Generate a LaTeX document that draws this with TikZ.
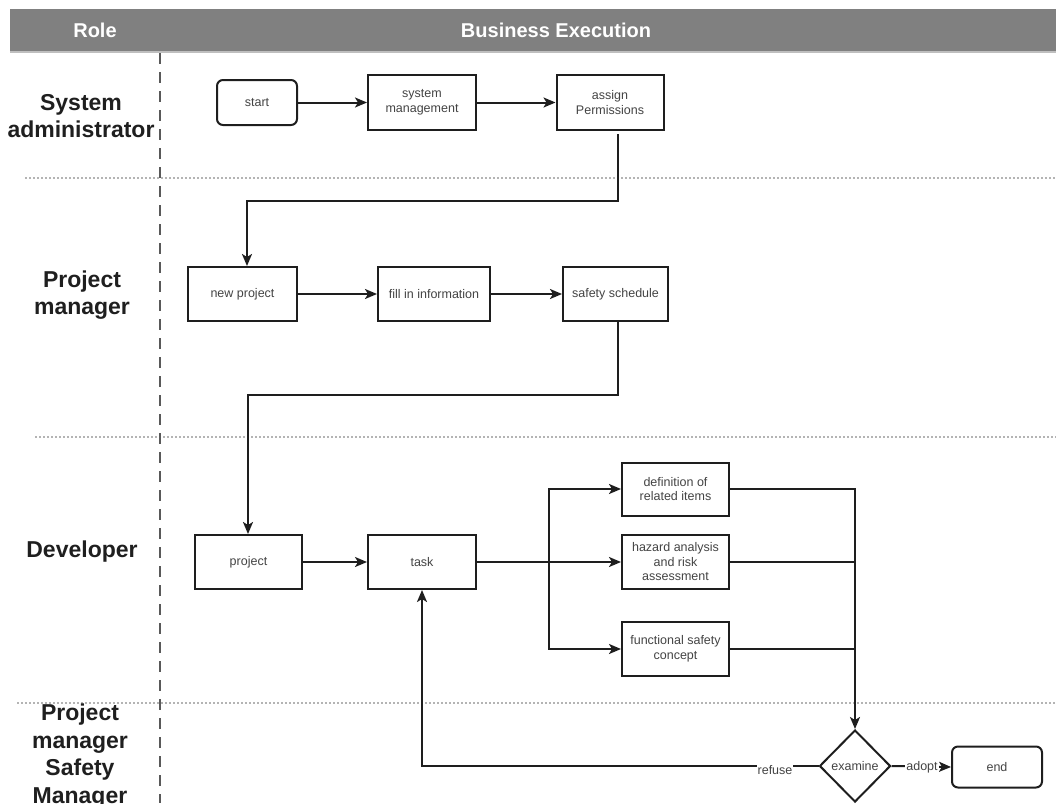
\documentclass[tikz,border=0pt]{standalone}
\usepackage{fontspec}
\setmainfont{Liberation Sans}
\usetikzlibrary{shapes.geometric,arrows.meta,calc}
\definecolor{hdr}{HTML}{808080}
\definecolor{ln}{HTML}{1E1E1E}
\definecolor{txt}{HTML}{444444}
\definecolor{sep}{HTML}{B4B4B4}
\tikzset{
  box/.style={draw=ln, line width=2pt, fill=white, align=center, text=txt,
    font=\fontsize{12.5}{14.5}\selectfont, inner sep=2pt},
  rbox/.style={box, rounded corners=6pt},
  dec/.style={draw=ln, line width=2pt, fill=white, diamond, aspect=1, text=txt,
    font=\fontsize{12.5}{14.5}\selectfont, inner sep=0pt, minimum width=71pt, minimum height=72pt},
  conn/.style={draw=ln, line width=2pt},
  arr/.style={conn, -{Stealth[length=12pt,width=10pt,inset=3pt]}},
  role/.style={align=center, text=black!88, font=\fontsize{23}{27.5}\selectfont\bfseries},
  head/.style={text=white, font=\fontsize{20}{24}\selectfont\bfseries},
  lbl/.style={fill=white, text=txt, font=\fontsize{12.5}{14.5}\selectfont, inner sep=1pt}
}
\begin{document}
\begin{tikzpicture}[x=1pt,y=-1pt]
\useasboundingbox (0,0) rectangle (1056,803);
% header
\fill[black!25] (10,11) rectangle (1056,53);
\fill[hdr] (10,9) rectangle (1056,51);
\node[head] (hrole) at (95,30) {Role};
\node[head] (hbus) at (556,30) {Business Execution};
% separators
\draw[sep, line width=1.2pt, dash pattern=on 2pt off 2pt] (25,178) -- (1056,178);
\draw[sep, line width=1.2pt, dash pattern=on 2pt off 2pt] (35,437) -- (1056,437);
\draw[sep, line width=1.2pt, dash pattern=on 2pt off 2pt] (17,703) -- (1056,703);
\draw[black!65, line width=2.6pt, dash pattern=on 11pt off 8pt] (160,53) -- (160,803);
% roles
\node[role] (r1) at (81,116) {System\\administrator};
\node[role] (r2) at (82,295) {Project\\manager};
\node[role] (r3) at (82,552) {Developer};
\node[role] (r4) at (80,756) {Project\\manager\\Safety\\Manager};
% nodes
\node[rbox, minimum width=80pt, minimum height=45pt] (start) at (257,102.5) {start};
\node[box, minimum width=108pt, minimum height=55pt] (sysm) at (422,102.5) {system\\management};
\node[box, minimum width=107pt, minimum height=55pt] (assign) at (610,102.5) {assign\\Permissions};
\node[box, minimum width=109pt, minimum height=54pt] (newp) at (242.5,294) {new project};
\node[box, minimum width=112pt, minimum height=54pt] (fill) at (434,294) {fill in information};
\node[box, minimum width=105pt, minimum height=54pt] (safety) at (615.5,294) {safety schedule};
\node[box, minimum width=107pt, minimum height=54pt] (project) at (248.5,562) {project};
\node[box, minimum width=108pt, minimum height=54pt] (task) at (422,562) {task};
\node[box, minimum width=107pt, minimum height=53pt] (def) at (675.5,489) {definition of\\related items};
\node[box, minimum width=107pt, minimum height=54pt] (haz) at (675.5,562) {hazard analysis\\and risk\\assessment};
\node[box, minimum width=107pt, minimum height=54pt] (func) at (675.5,649) {functional safety\\concept};
\node[dec] (exam) at (855,766) {examine};
\node[rbox, minimum width=90pt, minimum height=41pt] (end) at (997,767) {end};
% coordinates
\coordinate (a1) at (618,134);
\coordinate (a2) at (618,201);
\coordinate (a3) at (247,201);
\coordinate (s1) at (618,321);
\coordinate (s2) at (618,395);
\coordinate (s3) at (248,395);
\coordinate (br) at (549,562);
\coordinate (rf) at (422,766);
% connectors
\draw[arr] (start) -- (sysm);
\draw[arr] (sysm) -- (assign);
\draw[arr] (a1) -- (a2) -- (a3) -- (a3 |- newp.north);
\draw[arr] (newp) -- (fill);
\draw[arr] (fill) -- (safety);
\draw[arr] (s1) -- (s2) -- (s3) -- (s3 |- project.north);
\draw[arr] (project) -- (task);
\draw[arr] (task) -- (haz);
\draw[arr] (br) |- (def.west);
\draw[arr] (br) |- (func.west);
\draw[conn] (haz.east) -- (haz.east -| exam.north);
\draw[conn] (func.east) -- (func.east -| exam.north);
\draw[arr] (def.east) -| (exam.north);
\draw[arr] (exam.west) -- (rf) -- (task.south);
\node[lbl] (lref) at (775,770) {refuse};
\draw[arr] (exam.east) -- (end.west);
\node[lbl] (ladopt) at (922,767) {adopt};
\end{tikzpicture}
\end{document}
